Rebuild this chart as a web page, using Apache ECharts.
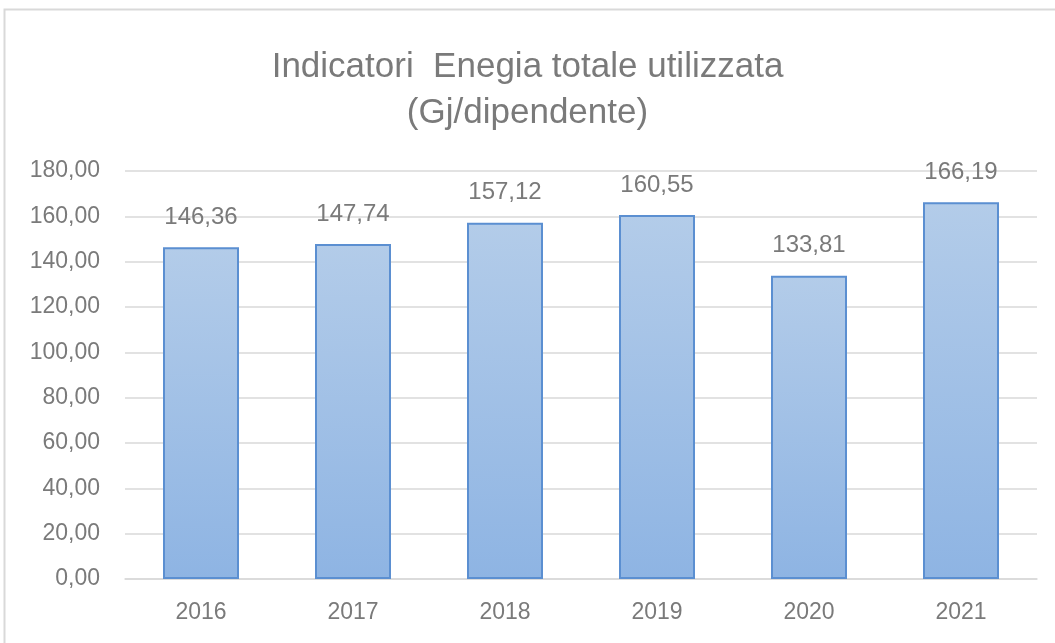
<!DOCTYPE html>
<html>
<head>
<meta charset="utf-8">
<script src="https://cdn.jsdelivr.net/npm/echarts@6/dist/echarts.min.js"></script>
<style>
html,body{margin:0;padding:0;background:#fff;}
#container1{width:1055px;height:643px;}
</style>
</head>
<body>
<div id="container1"></div>
<script>
var years = ['2016', '2017', '2018', '2019', '2020', '2021'];
var values = [146.36, 147.74, 157.12, 160.55, 133.81, 166.19];
var yTicks = [0, 20, 40, 60, 80, 100, 120, 140, 160, 180];

function fmt(v){
    return v.toFixed(2).replace('.', ',');
}

var myChart = echarts.init(document.getElementById('container1'));
var font = 'Liberation Sans, Arial, sans-serif';

var option = {
    graphic: [{
        type: 'rect',
        shape: {x: 4.5, y: 9.5, width: 1100, height: 700},
        style: {fill: 'none', stroke: '#d9d9d9', lineWidth: 2}
    }],
    title: {
        text: 'Indicatori  Enegia totale utilizzata\n(Gj/dipendente)',
        left: 'center',
        top: 39,
        textStyle: {
            fontFamily: font,
            fontWeight: 'normal',
            fontSize: 35,
            lineHeight: 46,
            color: '#7a7a7a'
        }
    },
    grid: {left: 125, right: 18, top: 171, bottom: 64},
    xAxis: {
        type: 'category',
        data: years,
        axisTick: {show: false},
        axisLine: {lineStyle: {color: '#d9d9d9', width: 1.5}},
        axisLabel: {fontFamily: font, fontSize: 23, color: '#7a7a7a', margin: 22}
    },
    yAxis: {
        type: 'value',
        min: yTicks[0],
        max: yTicks[yTicks.length - 1],
        interval: 20,
        axisLine: {show: false},
        axisTick: {show: false},
        splitLine: {lineStyle: {color: '#d9d9d9', width: 1.5}},
        axisLabel: {
            fontFamily: font, fontSize: 23, color: '#7a7a7a', margin: 25,
            formatter: function(v){ return fmt(v); }
        }
    },
    series: [{
        type: 'bar',
        data: values,
        barCategoryGap: '50%',
        itemStyle: {
            color: new echarts.graphic.LinearGradient(0, 0, 0, 1, [
                {offset: 0, color: '#b3cce9'},
                {offset: 1, color: '#8eb4e3'}
            ]),
            borderColor: '#5b8fd1',
            borderWidth: 2
        },
        label: {
            show: true,
            position: 'top',
            distance: 18,
            fontFamily: font,
            fontSize: 24,
            color: '#7a7a7a',
            formatter: function(p){ return fmt(p.value); }
        }
    }]
};
myChart.setOption(option);
</script>
</body>
</html>
